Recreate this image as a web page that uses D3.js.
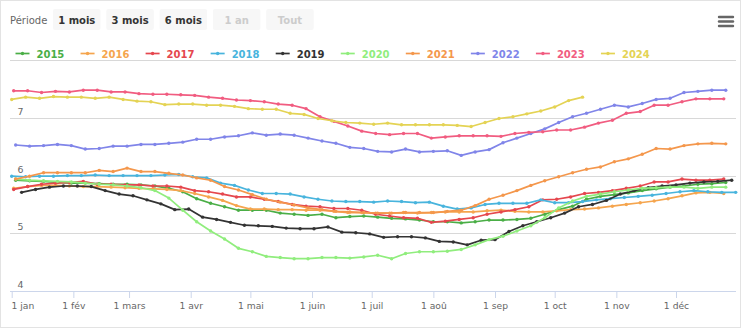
<!DOCTYPE html>
<html><head><meta charset="utf-8">
<script src="https://cdn.jsdelivr.net/npm/d3@7"></script>
<style>
body{margin:0;background:#fff}
svg{display:block;font-family:"DejaVu Sans",sans-serif}
</style>
</head><body>
<svg id="chart" width="747" height="329"></svg>
<script>
// ---------- DATA ----------
const years = ["2015","2016","2017","2018","2019","2020","2021","2022","2023","2024"];
// day-of-year of the first weekly point of each series
const startDays = [2,1,1,0,5,2,2,2,1,0];
const v2015 = [5.92,5.91,5.90,5.88,5.87,5.87,5.86,5.85,5.85,5.84,5.82,5.78,5.72,5.60,5.52,5.46,5.40,5.40,5.40,5.35,5.33,5.31,5.33,5.27,5.29,5.30,5.28,5.26,5.25,5.23,5.20,5.20,5.18,5.20,5.23,5.23,5.24,5.26,5.33,5.41,5.47,5.59,5.64,5.67,5.70,5.74,5.77,5.80,5.82,5.85,5.86,5.88];
const v2016 = [5.78,5.81,5.83,5.83,5.82,5.81,5.81,5.80,5.79,5.78,5.77,5.76,5.74,5.69,5.63,5.57,5.48,5.42,5.42,5.41,5.41,5.40,5.40,5.38,5.36,5.36,5.35,5.35,5.36,5.35,5.36,5.37,5.37,5.37,5.39,5.40,5.38,5.37,5.37,5.39,5.41,5.42,5.44,5.47,5.50,5.53,5.56,5.60,5.65,5.70,5.71,5.69];
const v2017 = [5.76,5.81,5.85,5.87,5.88,5.90,5.85,5.85,5.84,5.84,5.82,5.82,5.80,5.74,5.72,5.68,5.63,5.63,5.59,5.55,5.50,5.47,5.46,5.43,5.43,5.40,5.33,5.30,5.27,5.26,5.19,5.21,5.24,5.27,5.33,5.37,5.41,5.46,5.58,5.59,5.63,5.69,5.71,5.74,5.78,5.82,5.89,5.89,5.94,5.92,5.92,5.94];
const v2018 = [5.99,5.98,5.99,5.99,6.00,6.00,6.01,6.00,6.00,6.00,6.00,6.01,6.02,5.98,5.96,5.87,5.83,5.75,5.69,5.69,5.68,5.63,5.59,5.56,5.55,5.55,5.54,5.56,5.55,5.53,5.54,5.47,5.42,5.44,5.50,5.52,5.52,5.52,5.58,5.53,5.53,5.55,5.58,5.60,5.62,5.64,5.66,5.69,5.72,5.74,5.72,5.71,5.71];
const v2019 = [5.71,5.76,5.80,5.82,5.82,5.81,5.74,5.68,5.65,5.58,5.51,5.41,5.42,5.28,5.24,5.19,5.14,5.13,5.12,5.09,5.08,5.08,5.11,5.02,5.01,4.99,4.93,4.94,4.94,4.92,4.86,4.85,4.80,4.88,4.89,5.03,5.13,5.20,5.27,5.35,5.46,5.50,5.57,5.68,5.74,5.79,5.82,5.84,5.87,5.89,5.90,5.92];
const v2020 = [5.94,5.92,5.91,5.90,5.89,5.87,5.85,5.84,5.82,5.79,5.74,5.61,5.40,5.20,5.04,4.90,4.74,4.68,4.60,4.58,4.56,4.56,4.58,4.58,4.57,4.59,4.62,4.56,4.65,4.68,4.68,4.69,4.72,4.80,4.89,4.95,5.04,5.13,5.27,5.44,5.56,5.64,5.68,5.72,5.75,5.78,5.79,5.80,5.80,5.78,5.80,5.80];
const v2021 = [5.94,5.99,6.05,6.05,6.05,6.05,6.09,6.07,6.13,6.07,6.07,6.04,6.01,5.96,5.92,5.81,5.75,5.67,5.59,5.54,5.49,5.44,5.41,5.38,5.37,5.36,5.35,5.35,5.36,5.36,5.36,5.38,5.40,5.48,5.59,5.66,5.74,5.83,5.91,5.98,6.05,6.11,6.15,6.24,6.29,6.37,6.47,6.46,6.52,6.55,6.56,6.55];
const v2022 = [6.53,6.51,6.52,6.54,6.52,6.46,6.47,6.51,6.51,6.54,6.54,6.56,6.58,6.63,6.63,6.67,6.69,6.74,6.70,6.72,6.70,6.65,6.60,6.56,6.49,6.47,6.42,6.41,6.46,6.41,6.42,6.43,6.35,6.41,6.45,6.57,6.65,6.73,6.81,6.92,7.02,7.08,7.15,7.22,7.19,7.25,7.32,7.34,7.44,7.46,7.48,7.48];
const v2023 = [7.47,7.47,7.44,7.46,7.45,7.48,7.48,7.45,7.45,7.42,7.41,7.41,7.40,7.39,7.36,7.34,7.31,7.30,7.28,7.24,7.22,7.16,7.02,6.94,6.86,6.77,6.73,6.71,6.73,6.73,6.65,6.67,6.69,6.69,6.69,6.68,6.73,6.75,6.76,6.79,6.79,6.84,6.91,6.96,7.08,7.11,7.22,7.22,7.28,7.33,7.33,7.33];
const v2024 = [7.32,7.36,7.34,7.37,7.36,7.36,7.34,7.36,7.32,7.29,7.28,7.23,7.24,7.24,7.22,7.22,7.20,7.16,7.15,7.15,7.08,7.06,6.99,6.95,6.92,6.91,6.89,6.91,6.88,6.88,6.88,6.88,6.87,6.85,6.92,6.99,7.02,7.07,7.12,7.19,7.30,7.36];
const seriesValues = [v2015,v2016,v2017,v2018,v2019,v2020,v2021,v2022,v2023,v2024];
const monthLabels = ["1 jan","1 fév","1 mars","1 avr","1 mai","1 juin","1 juil","1 aoû","1 sep","1 oct","1 nov","1 déc"];
const yTickValues = [4,5,6,7,8];
const periodButtons = ["1 mois","3 mois","6 mois","1 an","Tout"];
const periodEnabled = [true,true,true,false,false];

// ---------- STYLE ----------
const colors = ["#4aae46","#f5a54e","#e5474e","#48b4dd","#333333","#90ed7d","#f4974c","#8085e9","#f15c80","#e4d354"];

const svg = d3.select("#chart");
const W = 747, H = 329;

// frame
svg.append("rect").attr("x",0.5).attr("y",0.5).attr("width",740).attr("height",327)
  .attr("fill","#fff").attr("stroke","#e3e3e3");

const baseYear = 2023;
const x = d3.scaleTime()
  .domain([new Date(baseYear,0,1), new Date(baseYear,11,31)])
  .range([11.7, 735.7]);
const y = d3.scaleLinear().domain([4,8]).range([291,60.2]);

// gridlines
svg.append("g").selectAll("line").data(yTickValues.filter(v=>v>4)).join("line")
  .attr("x1",10).attr("x2",736)
  .attr("y1",d=>Math.round(y(d))+0.5).attr("y2",d=>Math.round(y(d))+0.5)
  .attr("stroke","#d8d8d8").attr("stroke-width",1);

// y labels (not the top one, hidden behind legend)
svg.append("g").selectAll("text").data(yTickValues.filter(v=>v<8)).join("text")
  .attr("x",17.5).attr("y",d=>y(d)-3)
  .attr("font-size","9.4px").attr("fill","#666").text(d=>d);

// x axis
const monthTicks = d3.timeMonth.range(new Date(baseYear,0,1), new Date(baseYear+1,0,1));
const xAxis = d3.axisBottom(x).tickValues(monthTicks)
  .tickFormat((d,i)=>monthLabels[i]).tickSize(7).tickPadding(4.5);
const gx = svg.append("g").attr("transform","translate(0,291)").call(xAxis);
gx.select(".domain").attr("stroke","#ccd6eb").attr("d","M10,0.5H736");
gx.selectAll(".tick line").attr("stroke","#ccd6eb");
gx.selectAll(".tick text").attr("font-size","9.2px").attr("fill","#666")
  .attr("font-family","DejaVu Sans, sans-serif");
gx.select(".tick text").attr("text-anchor","start").attr("x",-0.7);

// series
const line = d3.line().x(d=>x(d.date)).y(d=>y(d.v));
years.forEach((yr,k)=>{
  const pts = seriesValues[k].map((v,i)=>({date:d3.timeDay.offset(new Date(baseYear,0,1), startDays[k]+7*i), v}));
  const g = svg.append("g");
  g.append("path").datum(pts).attr("d",line).attr("fill","none")
    .attr("stroke",colors[k]).attr("stroke-width",1.7).attr("stroke-linejoin","round");
  g.selectAll("circle").data(pts).join("circle")
    .attr("cx",d=>x(d.date)).attr("cy",d=>y(d.v)).attr("r",1.7).attr("fill",colors[k]);
});

// legend
const lg = svg.append("g");
years.forEach((yr,k)=>{
  const tx = 36.5 + 65.05*k;
  lg.append("line").attr("x1",tx-21).attr("x2",tx-7).attr("y1",53.5).attr("y2",53.5)
    .attr("stroke",colors[k]).attr("stroke-width",1.7);
  lg.append("circle").attr("cx",tx-14).attr("cy",53.5).attr("r",1.7).attr("fill",colors[k]);
  lg.append("text").attr("x",tx).attr("y",57.5).attr("font-size","10px").attr("font-weight","bold")
    .attr("fill",colors[k]).text(yr);
});

// period selector
svg.append("text").attr("x",10).attr("y",24).attr("font-size","10px").attr("fill","#666").text("Période");
periodButtons.forEach((b,i)=>{
  const bx = 53 + i*53.3;
  svg.append("rect").attr("x",bx).attr("y",9).attr("width",47.5).attr("height",21).attr("rx",2)
    .attr("fill","#f7f7f7");
  svg.append("text").attr("x",bx+23.75).attr("y",24).attr("text-anchor","middle")
    .attr("font-size","10px").attr("font-weight","bold")
    .attr("fill",periodEnabled[i]?"#333":"#cccccc").text(b);
});

// context menu icon
[17,21.5,26].forEach(yy=>{
  svg.append("line").attr("x1",719).attr("x2",733).attr("y1",yy).attr("y2",yy)
    .attr("stroke","#666").attr("stroke-width",2.4).attr("stroke-linecap","round");
});
</script>
</body></html>
